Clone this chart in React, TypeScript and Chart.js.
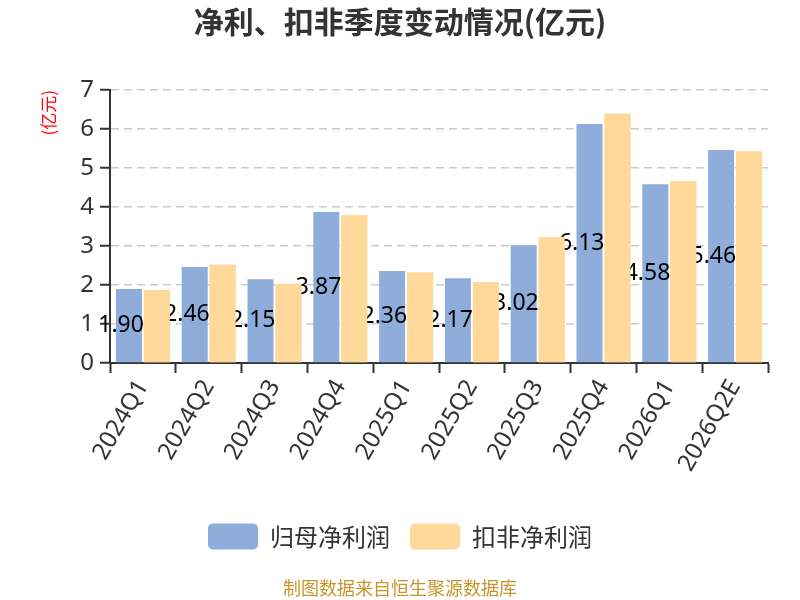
import React, { useEffect, useRef } from "react";
import { Chart, registerables } from "chart.js";

Chart.register(...registerables);

const categories = ["2024Q1", "2024Q2", "2024Q3", "2024Q4", "2025Q1", "2025Q2", "2025Q3", "2025Q4", "2026Q1", "2026Q2E"];
const netProfit = [1.9, 2.46, 2.15, 3.87, 2.36, 2.17, 3.02, 6.13, 4.58, 5.46];
const deductedProfit = [1.87, 2.52, 2.03, 3.79, 2.32, 2.07, 3.23, 6.39, 4.66, 5.42];
const seriesNames = ["归母净利润", "扣非净利润"];
const titleText = "净利、扣非季度变动情况(亿元)";
const unitText = "(亿元)";
const footerText = "制图数据来自恒生聚源数据库";

const FONT = "'Noto Sans', 'Noto Sans CJK SC', sans-serif";
const CJK = "'Noto Sans CJK SC', 'Noto Sans', sans-serif";

const labelPlugin = {
  id: "barLabels",
  afterDatasetsDraw(chart: any) {
    const ctx = chart.ctx;
    const meta = chart.getDatasetMeta(0);
    ctx.save();
    ctx.font = `23px ${FONT}`;
    ctx.fillStyle = "#000";
    ctx.textAlign = "right";
    ctx.textBaseline = "middle";
    meta.data.forEach((bar: any, i: number) => {
      const v = netProfit[i];
      ctx.fillText(v.toFixed(2), bar.x + bar.width / 2 + 2, (bar.y + bar.base) / 2);
    });
    ctx.restore();
    // second series is painted over the labels, as in the reference
    const a = chart.chartArea;
    ctx.save();
    ctx.beginPath();
    ctx.rect(a.left, a.top, a.right - a.left, a.bottom - a.top);
    ctx.clip();
    chart.getDatasetMeta(1).controller.draw();
    ctx.restore();
  },
};

export default function App() {
  const ref = useRef<HTMLCanvasElement>(null);
  useEffect(() => {
    if (!ref.current) return;
    const chart = new Chart(ref.current, {
      type: "bar",
      data: {
        labels: categories,
        datasets: [
          { label: seriesNames[0], data: netProfit, backgroundColor: "#8EADDA", barPercentage: 0.93, categoryPercentage: 0.85 },
          { label: seriesNames[1], data: deductedProfit, backgroundColor: "#FFD999", barPercentage: 0.93, categoryPercentage: 0.85 },
        ],
      },
      plugins: [labelPlugin],
      options: {
        animation: false,
        responsive: false,
        layout: { padding: 0 },
        plugins: {
          title: {
            display: true,
            text: titleText,
            color: "#333",
            font: { family: CJK, size: 30, weight: "bold" },
            padding: { top: 4, bottom: 50 },
          },
          subtitle: {
            display: true,
            text: footerText,
            position: "bottom",
            color: "#C9952B",
            font: { family: CJK, size: 18 },
            padding: { top: 18, bottom: 1 },
          },
          legend: {
            position: "bottom",
            labels: {
              boxWidth: 50,
              boxHeight: 26,
              useBorderRadius: true,
              borderRadius: 5,
              color: "#333",
              font: { family: CJK, size: 24 },
              padding: 20,
            },
          },
          tooltip: { enabled: false },
        },
        scales: {
          x: {
            offset: true,
            afterFit: (s: any) => { s.height += 24.8; },
            grid: { display: true, drawOnChartArea: false, offset: true, tickLength: 10, tickColor: "#333", tickWidth: 2 },
            border: { display: true, color: "#333", width: 2 },
            ticks: { color: "#333", font: { family: FONT, size: 24 }, maxRotation: 60, minRotation: 60, autoSkip: false, padding: 2 },
          },
          y: {
            min: 0,
            max: 7,
            afterFit: (s: any) => { s.width = 110; },
            ticks: { stepSize: 1, color: "#333", font: { family: FONT, size: 24 }, padding: 6 },
            grid: { color: "#ccc", lineWidth: 1.5, tickLength: 10, tickColor: "#333", tickWidth: 2 },
            border: { display: true, color: "#333", width: 2, dash: [8, 5] },
            title: {
              display: true,
              text: unitText,
              color: "#FF0000",
              align: "end",
              font: { family: CJK, size: 17 },
              padding: { top: 38, bottom: 0 },
            },
          },
          yRight: {
            position: "right",
            min: 0,
            max: 7,
            afterFit: (s: any) => { s.width = 32; },
            ticks: { display: false },
            grid: { display: false },
            border: { display: false },
          },
        },
      },
    } as any);
    return () => chart.destroy();
  }, []);
  return (
    <div style={{ position: "fixed", left: 0, top: 0, width: 800, height: 600, background: "#fff" }}>
      <canvas ref={ref} width={800} height={600} style={{ width: 800, height: 600 }} />
    </div>
  );
}
